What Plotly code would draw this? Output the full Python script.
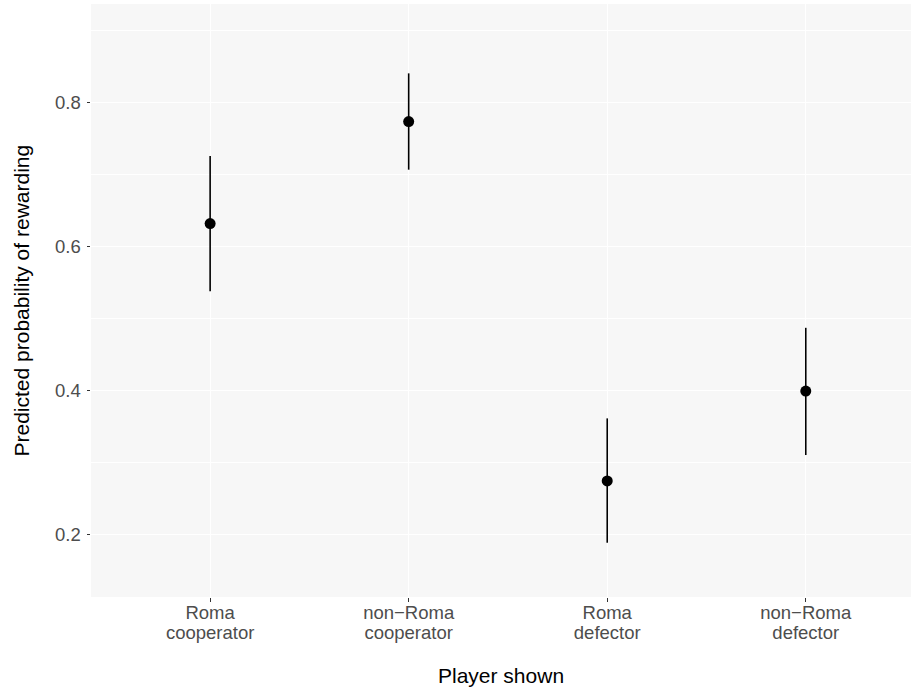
import plotly.graph_objects as go

# Predicted probability of rewarding, by type of player shown
group_label = ["Roma", "non−Roma", "Roma", "non−Roma"]
role_label = ["cooperator", "cooperator", "defector", "defector"]
estimate = [0.632, 0.774, 0.274, 0.399]
ci_lower = [0.538, 0.707, 0.188, 0.310]
ci_upper = [0.726, 0.841, 0.361, 0.487]
y_ticks = [0.2, 0.4, 0.6, 0.8]

x_pos = list(range(len(group_label)))
err_plus = [u - e for u, e in zip(ci_upper, estimate)]
err_minus = [e - l for e, l in zip(estimate, ci_lower)]

FONT = "Liberation Sans, Arial, Helvetica, sans-serif"
TICK_FONT = dict(family=FONT, size=18.5, color="#4D4D4D")
W, H = 911, 695
M = dict(l=91, r=0, t=4, b=98)
X_RANGE = [-0.6, 3.53]

fig = go.Figure()
fig.add_trace(
    go.Scatter(
        x=x_pos,
        y=estimate,
        mode="markers",
        marker=dict(color="black", size=11),
        error_y=dict(
            type="data",
            symmetric=False,
            array=err_plus,
            arrayminus=err_minus,
            color="black",
            thickness=1.6,
            width=0,
        ),
        showlegend=False,
    )
)
# empty companion trace so the second label row (x2) is drawn
fig.add_trace(
    go.Scatter(x=x_pos, y=estimate, mode="none", xaxis="x2",
               showlegend=False, hoverinfo="skip")
)

fig.update_layout(
    xaxis=dict(
        range=X_RANGE,
        tickvals=x_pos,
        ticktext=group_label,
        tickfont=TICK_FONT,
        ticks="outside",
        ticklen=3.5,
        tickwidth=1.1,
        tickcolor="#333333",
        ticklabelstandoff=-5,
        showgrid=True,
        gridcolor="white",
        gridwidth=1.4,
        zeroline=False,
        showline=False,
    ),
    xaxis2=dict(
        overlaying="x",
        matches="x",
        side="bottom",
        anchor="y",
        range=X_RANGE,
        tickvals=x_pos,
        ticktext=role_label,
        tickfont=TICK_FONT,
        ticks="outside",
        ticklen=3.5,
        tickcolor="rgba(0,0,0,0)",
        ticklabelstandoff=15,
        showgrid=False,
        zeroline=False,
        showline=False,
    ),
    yaxis=dict(
        range=[0.1125, 0.9375],
        tickvals=y_ticks,
        ticktext=[f"{v:.1f}" for v in y_ticks],
        tickfont=TICK_FONT,
        ticks="outside",
        ticklen=3.5,
        tickwidth=1.1,
        tickcolor="#333333",
        ticklabelstandoff=2,
        showgrid=True,
        gridcolor="white",
        gridwidth=1.4,
        minor=dict(tickvals=[0.3, 0.5, 0.7, 0.9], showgrid=True,
                   gridcolor="white", gridwidth=0.8, ticklen=0),
        zeroline=False,
        showline=False,
    ),
)

plot_w = W - M["l"] - M["r"]
plot_h = H - M["t"] - M["b"]

fig.update_layout(
    width=W,
    height=H,
    margin=M,
    paper_bgcolor="white",
    plot_bgcolor="#F7F7F7",
    font=dict(family=FONT),
    annotations=[
        dict(
            text="Predicted probability of rewarding",
            xref="paper", yref="paper",
            x=-(M["l"] - 21) / plot_w, y=0.5,
            xanchor="center", yanchor="middle",
            textangle=-90, showarrow=False,
            font=dict(family=FONT, size=21, color="black"),
        ),
        dict(
            text="Player shown",
            xref="paper", yref="paper",
            x=0.5, y=-(675 - (M["t"] + plot_h)) / plot_h,
            xanchor="center", yanchor="middle",
            showarrow=False,
            font=dict(family=FONT, size=21, color="black"),
        ),
    ],
)

fig.write_html("out.html")
